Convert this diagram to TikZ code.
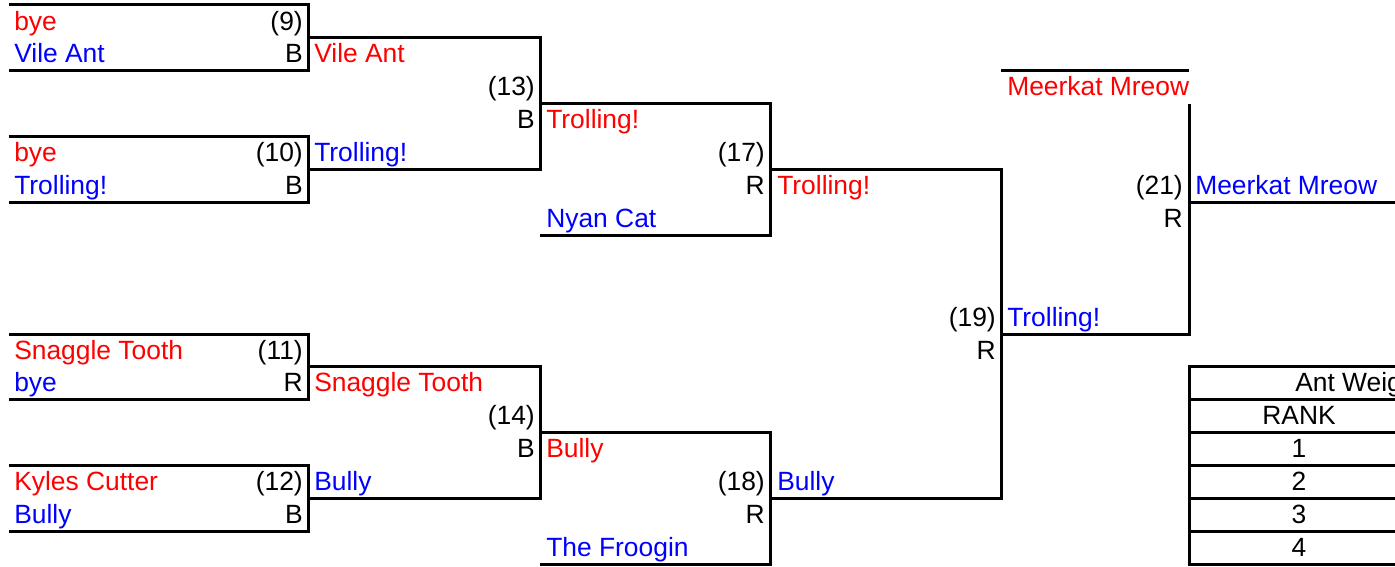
\documentclass[tikz,border=0pt]{standalone}
\usepackage{fontspec}
\setmainfont{Liberation Sans}
\usepackage{tikz}

\begin{document}
\begin{tikzpicture}[x=0.75pt,y=-24.675pt]
            \tikzstyle{every node}+=[inner sep=0pt, font=\fontsize{19.8}{24}\selectfont]
            \tikzstyle{redteam}=[anchor=base west, text=red]
            \tikzstyle{blueteam}=[anchor=base west, text=blue]
            \tikzstyle{seed}=[anchor=base east, text=black]
            \tikzstyle{bline}=[black, line width=2.25pt]
            \useasboundingbox (0,-0.152) rectangle (1395,17.052);
            \clip (0,-0.152) rectangle (1395,17.052);
            % first round
            \draw [bline] (9,0) -- (308,0) -- (308,2) -- (9,2);
            \node [redteam] (t9a) at (14,0.76) {bye};
            \node [seed] (m9) at (303,0.76) {(9)};
            \node [blueteam] (t9b) at (14,1.76) {Vile Ant};
            \node [seed] (w9) at (303,1.76) {B};
            \draw [bline] (9,4) -- (308,4) -- (308,6) -- (9,6);
            \node [redteam] (t10a) at (14,4.76) {bye};
            \node [seed] (m10) at (303,4.76) {(10)};
            \node [blueteam] (t10b) at (14,5.76) {Trolling!};
            \node [seed] (w10) at (303,5.76) {B};
            \draw [bline] (9,10) -- (308,10) -- (308,12) -- (9,12);
            \node [redteam] (t11a) at (14,10.76) {Snaggle Tooth};
            \node [seed] (m11) at (303,10.76) {(11)};
            \node [blueteam] (t11b) at (14,11.76) {bye};
            \node [seed] (w11) at (303,11.76) {R};
            \draw [bline] (9,14) -- (308,14) -- (308,16) -- (9,16);
            \node [redteam] (t12a) at (14,14.76) {Kyles Cutter};
            \node [seed] (m12) at (303,14.76) {(12)};
            \node [blueteam] (t12b) at (14,15.76) {Bully};
            \node [seed] (w12) at (303,15.76) {B};
            % second round
            \draw [bline] (308,1) -- (540,1) -- (540,5) -- (308,5);
            \node [redteam] (t13a) at (314,1.76) {Vile Ant};
            \node [seed] (m13) at (535,2.76) {(13)};
            \node [seed] (w13) at (535,3.76) {B};
            \node [blueteam] (t13b) at (314,4.76) {Trolling!};
            \draw [bline] (308,11) -- (540,11) -- (540,15) -- (308,15);
            \node [redteam] (t14a) at (314,11.76) {Snaggle Tooth};
            \node [seed] (m14) at (535,12.76) {(14)};
            \node [seed] (w14) at (535,13.76) {B};
            \node [blueteam] (t14b) at (314,14.76) {Bully};
            % third round
            \draw [bline] (540,3) -- (770,3) -- (770,7) -- (540,7);
            \node [redteam] (t17a) at (546,3.76) {Trolling!};
            \node [seed] (m17) at (765,4.76) {(17)};
            \node [seed] (w17) at (765,5.76) {R};
            \node [blueteam] (t17b) at (546,6.76) {Nyan Cat};
            \draw [bline] (540,13) -- (770,13) -- (770,17) -- (540,17);
            \node [redteam] (t18a) at (546,13.76) {Bully};
            \node [seed] (m18) at (765,14.76) {(18)};
            \node [seed] (w18) at (765,15.76) {R};
            \node [blueteam] (t18b) at (546,16.76) {The Froogin};
            % semi
            \draw [bline] (770,5) -- (1001,5) -- (1001,15) -- (770,15);
            \node [redteam] (t19a) at (777,5.76) {Trolling!};
            \node [seed] (m19) at (996,9.76) {(19)};
            \node [seed] (w19) at (996,10.76) {R};
            \node [blueteam] (t19b) at (777,14.76) {Bully};
            % final
            \draw [bline] (1001,2) -- (1189,2);
            \draw [bline] (1189,3) -- (1189,10) -- (1001,10);
            \draw [bline] (1189,6) -- (1395,6);
            \node [redteam] (t21a) at (1007,2.76) {Meerkat Mreow};
            \node [seed] (m21) at (1183,5.76) {(21)};
            \node [seed] (w21) at (1183,6.76) {R};
            \node [blueteam] (t21b) at (1007,9.76) {Trolling!};
            \node [blueteam] (champ) at (1195,5.76) {Meerkat Mreow};
            % ranking table
            \draw [bline] (1395,11) -- (1189,11) -- (1189,17) -- (1395,17);
            \foreach \r in {12,...,16}
              \draw [bline] (1189,\r) -- (1395,\r);
            \node [anchor=base west] (title) at (1295,11.76) {Ant Weig};
            \node [anchor=base] (rank) at (1299,12.76) {RANK};
            \foreach \k in {1,...,4}
              \node [anchor=base] (rank\k) at (1299,{12.76+\k}) {\k};
\end{tikzpicture}
\end{document}
